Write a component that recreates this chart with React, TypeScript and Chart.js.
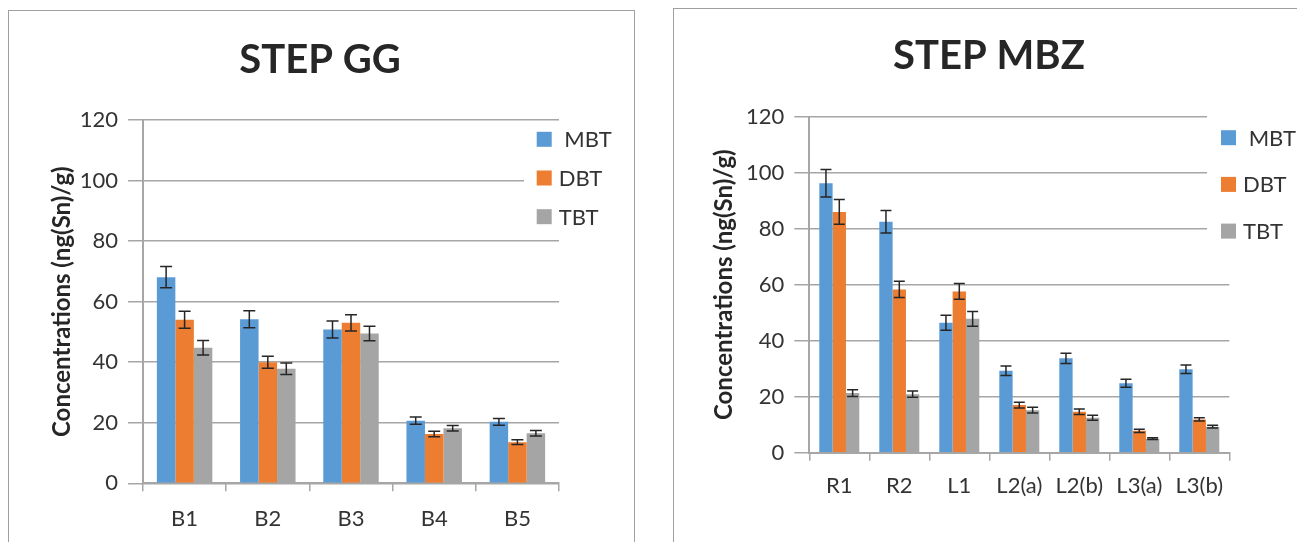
import React, { useEffect, useRef } from 'react';
import { Chart, registerables } from 'chart.js';

Chart.register(...registerables);

// ---------- Data ----------
const seriesNames = [' MBT', 'DBT', 'TBT'];
const seriesColors = ['#5B9BD5', '#ED7D31', '#A5A5A5'];

const ggCategories = ['B1', 'B2', 'B3', 'B4', 'B5'];
const ggMBT = [68.1, 54.2, 50.8, 20.7, 20.3];
const ggMBTErr = [3.5, 2.8, 2.8, 1.2, 1.1];
const ggDBT = [54.0, 40.0, 53.0, 16.3, 13.6];
const ggDBTErr = [2.8, 2.0, 2.7, 0.9, 0.8];
const ggTBT = [44.8, 37.8, 49.5, 18.2, 16.5];
const ggTBTErr = [2.4, 1.9, 2.4, 0.9, 0.9];

const mbzCategories = ['R1', 'R2', 'L1', 'L2(a)', 'L2(b)', 'L3(a)', 'L3(b)'];
const mbzMBT = [96.2, 82.5, 46.4, 29.3, 33.7, 24.8, 29.8];
const mbzMBTErr = [4.9, 4.0, 2.7, 1.7, 1.8, 1.4, 1.5];
const mbzDBT = [86.0, 58.3, 57.6, 17.0, 14.6, 7.8, 11.9];
const mbzDBTErr = [4.4, 2.9, 2.8, 1.0, 1.0, 0.6, 0.6];
const mbzTBT = [21.3, 20.9, 47.8, 15.2, 12.5, 5.0, 9.3];
const mbzTBTErr = [1.2, 1.1, 2.6, 1.0, 0.9, 0.3, 0.5];

const yMin = 0;
const yMax = 120;
const yStep = 20;
const yAxisTitle = 'Concentrations (ng(Sn)/g)';

const FONT = 'Lato, "Open Sans", sans-serif';
const GRID = '#a6a6a6';
const TEXT = '#333333';

// ---------- Plugins ----------
const errorBarPlugin = {
  id: 'errorBars',
  afterDatasetsDraw(chart: any, _args: any, opts: any) {
    const y = chart.scales.y;
    const ctx = chart.ctx;
    ctx.save();
    ctx.strokeStyle = opts.color || '#222';
    ctx.lineWidth = opts.lineWidth || 1.5;
    chart.data.datasets.forEach((ds: any, i: number) => {
      const meta = chart.getDatasetMeta(i);
      meta.data.forEach((bar: any, j: number) => {
        const v = ds.data[j];
        const e = ds.errors ? ds.errors[j] : 0;
        const yt = y.getPixelForValue(v + e);
        const yb = y.getPixelForValue(v - e);
        const x = bar.x;
        const c = opts.capHalf || 6;
        ctx.beginPath();
        ctx.moveTo(x, yt);
        ctx.lineTo(x, yb);
        ctx.moveTo(x - c, yt);
        ctx.lineTo(x + c, yt);
        ctx.moveTo(x - c, yb);
        ctx.lineTo(x + c, yb);
        ctx.stroke();
      });
    });
    ctx.restore();
  },
};

const boxLegendPlugin = {
  id: 'boxLegend',
  afterDraw(chart: any, _args: any, opts: any) {
    const ctx = chart.ctx;
    const area = chart.chartArea;
    const boxX = area.right + opts.xOffset;
    ctx.save();
    ctx.fillStyle = '#ffffff';
    ctx.fillRect(boxX - opts.bgPadLeft, area.top + opts.bgTop, chart.width - (boxX - opts.bgPadLeft), opts.bgBottom - opts.bgTop);
    chart.data.datasets.forEach((ds: any, i: number) => {
      const cy = area.top + opts.firstY + i * opts.spacing;
      ctx.fillStyle = ds.backgroundColor;
      ctx.fillRect(boxX, cy - opts.boxSize / 2, opts.boxSize, opts.boxSize);
      ctx.fillStyle = TEXT;
      ctx.font = `${opts.fontSize}px ${FONT}`;
      ctx.textAlign = 'left';
      ctx.textBaseline = 'middle';
      ctx.fillText(ds.label, boxX + opts.boxSize + opts.gap, cy + 1);
    });
    ctx.restore();
  },
};

const titleTextPlugin = {
  id: 'titleText',
  afterDraw(chart: any, _args: any, opts: any) {
    const ctx = chart.ctx;
    ctx.save();
    ctx.fillStyle = '#262626';
    ctx.font = `bold ${opts.fontSize}px ${FONT}`;
    ctx.textAlign = 'center';
    ctx.textBaseline = 'middle';
    ctx.fillText(opts.text, opts.x, opts.y);
    ctx.restore();
  },
};

type Cfg = {
  title: string;
  categories: string[];
  values: number[][];
  errors: number[][];
  left: number;
  top: number;
  width: number;
  height: number;
  yWidth: number;
  xHeight: number;
  padTop: number;
  padRight: number;
  yTitlePad: number;
  xLabelPad: number;
  titleX: number;
  titleY: number;
  legend: any;
  capHalf: number;
};

function BarPanel({ cfg }: { cfg: Cfg }) {
  const ref = useRef<HTMLCanvasElement>(null);
  useEffect(() => {
    const chart = new Chart(ref.current as HTMLCanvasElement, {
      type: 'bar',
      data: {
        labels: cfg.categories,
        datasets: seriesNames.map((name, i) => ({
          label: name,
          data: cfg.values[i],
          errors: cfg.errors[i],
          backgroundColor: seriesColors[i],
          borderWidth: 0,
          categoryPercentage: 3 / 4.5,
          barPercentage: 1,
        })) as any,
      },
      options: {
        animation: false,
        responsive: false,
        maintainAspectRatio: false,
        layout: { padding: { left: 0, top: cfg.padTop, right: cfg.padRight, bottom: 0 } },
        plugins: {
          legend: { display: false },
          title: { display: false },
          tooltip: { enabled: false },
          errorBars: { capHalf: cfg.capHalf, color: '#262626', lineWidth: 1.5 },
          boxLegend: cfg.legend,
          titleText: { text: cfg.title, x: cfg.titleX, y: cfg.titleY, fontSize: 40 },
        } as any,
        scales: {
          x: {
            type: 'category',
            grid: {
              offset: true,
              drawOnChartArea: false,
              drawTicks: true,
              tickLength: 8,
              color: GRID,
              lineWidth: 1.5,
            },
            border: { color: GRID, width: 2 },
            ticks: {
              color: TEXT,
              font: { family: FONT, size: 22 },
              padding: cfg.xLabelPad,
              autoSkip: false,
              maxRotation: 0,
            },
            afterFit: (s: any) => {
              s.height = cfg.xHeight;
            },
          },
          y: {
            min: yMin,
            max: yMax,
            ticks: {
              stepSize: yStep,
              color: TEXT,
              font: { family: FONT, size: 22 },
              padding: 10,
            },
            grid: { color: GRID, lineWidth: 1.5, tickLength: 15 },
            border: { color: GRID, width: 2 },
            title: {
              display: true,
              text: yAxisTitle,
              color: '#262626',
              font: { family: FONT, size: 24, weight: 'bold' },
              padding: { top: cfg.yTitlePad, bottom: 0 },
            },
            afterFit: (s: any) => {
              s.width = cfg.yWidth;
            },
          },
        } as any,
      },
      plugins: [errorBarPlugin, boxLegendPlugin, titleTextPlugin],
    });
    return () => chart.destroy();
  }, []);
  return (
    <canvas
      ref={ref}
      width={cfg.width}
      height={cfg.height}
      style={{ position: 'absolute', left: cfg.left, top: cfg.top, width: cfg.width, height: cfg.height }}
    />
  );
}

const ggCfg: Cfg = {
  title: 'STEP GG',
  categories: ggCategories,
  values: [ggMBT, ggDBT, ggTBT],
  errors: [ggMBTErr, ggDBTErr, ggTBTErr],
  left: 8,
  top: 10,
  width: 626,
  height: 532,
  yWidth: 135,
  xHeight: 58.7,
  padTop: 110,
  padRight: 75,
  yTitlePad: 40,
  xLabelPad: 14.5,
  titleX: 312,
  titleY: 50,
  capHalf: 6,
  legend: { xOffset: -22.3, firstY: 19.3, spacing: 38.7, boxSize: 15, gap: 7, fontSize: 22, bgPadLeft: 12.7, bgTop: 1.5, bgBottom: 115 },
};

const mbzCfg: Cfg = {
  title: 'STEP MBZ',
  categories: mbzCategories,
  values: [mbzMBT, mbzDBT, mbzTBT],
  errors: [mbzMBTErr, mbzDBTErr, mbzTBTErr],
  left: 674,
  top: 8,
  width: 623,
  height: 534,
  yWidth: 135.3,
  xHeight: 89.3,
  padTop: 108.7,
  padRight: 67.7,
  yTitlePad: 35.6,
  xLabelPad: 12.5,
  titleX: 315,
  titleY: 48,
  capHalf: 5.5,
  legend: { xOffset: -8.3, firstY: 21, spacing: 46.7, boxSize: 15, gap: 7, fontSize: 22, bgPadLeft: 14, bgTop: -2, bgBottom: 140 },
};

export default function App() {
  return (
    <div>
      <div
        style={{
          position: 'absolute',
          left: 8,
          top: 10,
          width: 627,
          height: 532,
          borderTop: '1px solid #a0a0a0',
          borderLeft: '1px solid #a0a0a0',
          borderRight: '1px solid #a0a0a0',
          boxSizing: 'border-box',
        }}
      />
      <div
        style={{
          position: 'absolute',
          left: 673,
          top: 8,
          width: 624,
          height: 534,
          borderTop: '1px solid #a0a0a0',
          borderLeft: '1px solid #a0a0a0',
          boxSizing: 'border-box',
        }}
      />
      <BarPanel cfg={ggCfg} />
      <BarPanel cfg={mbzCfg} />
    </div>
  );
}
